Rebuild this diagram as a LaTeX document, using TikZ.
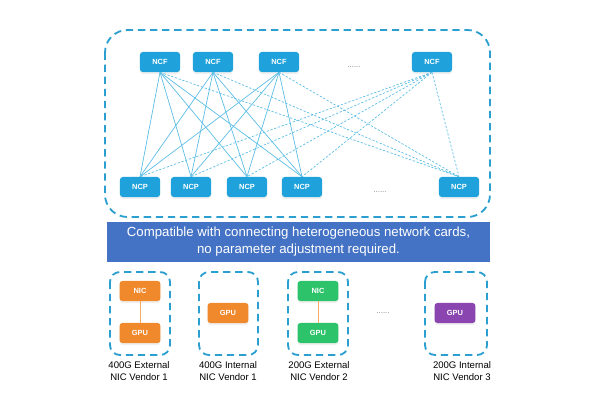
\documentclass[tikz,border=0pt]{standalone}
\usepackage{fontspec}
\setmainfont{Liberation Sans}
\usetikzlibrary{shadows}
\definecolor{ncblue}{HTML}{1FA2DB}
\definecolor{linkblue}{HTML}{5CBDE5}
\definecolor{boxblue}{HTML}{2A9FD0}
\definecolor{bannerblue}{HTML}{4472C4}
\definecolor{gpuorange}{HTML}{F0882C}
\definecolor{nicgreen}{HTML}{2CC36B}
\definecolor{gpupurple}{HTML}{8A45B0}
\begin{document}
\begin{tikzpicture}[x=0.025cm, y=-0.025cm,
    switchbox/.style={fill=ncblue, rounded corners=2pt, minimum width=1cm, minimum height=0.5cm,
        inner sep=0pt, text=white, font=\bfseries\fontsize{5.3}{6}\selectfont,
        drop shadow={opacity=0.12, shadow xshift=0pt, shadow yshift=-1.5pt}},
    chip/.style={switchbox, minimum width=1.02cm},
    link/.style={linkblue, line width=0.5pt},
    weaklink/.style={link, dash pattern=on 1.6pt off 1.2pt},
    groupbox/.style={boxblue, line width=1.3pt, dash pattern=on 5.2pt off 3.4pt},
    caption/.style={align=center, font=\fontsize{6.8}{8}\selectfont},
    gap/.style={gray, font=\fontsize{5.5}{6}\selectfont}]
    \useasboundingbox (0,0) rectangle (600,400);

    % Fabric boundary
    \draw[groupbox, rounded corners=16pt] (105,30) rectangle (490,217);

    % Fabric switches and edge ports
    \foreach \x [count=\i] in {160,213,279,432}
        \node[switchbox] (ncf\i) at (\x,62) {NCF};
    \foreach \x [count=\i] in {140,191,247,302,459}
        \node[switchbox] (ncp\i) at (\x,187) {NCP};
    \node[gap] (ncfdots) at (354,67) {......};
    \node[gap] (ncpdots) at (380,192) {......};

    % Links
    \foreach \i in {1,2,3} {
        \foreach \j in {1,...,4}
            \draw[link] (ncf\i.south) -- (ncp\j.north);
        \draw[weaklink] (ncf\i.south) -- (ncp5.north);
    }
    \foreach \j in {1,...,5}
        \draw[weaklink] (ncf4.south) -- (ncp\j.north);

    % Banner
    \node[fill=bannerblue, minimum width=9.575cm, minimum height=1cm, inner sep=0pt,
        text=white, align=center, font=\fontsize{9.4}{12}\selectfont] (note) at (298.5,242)
        {Compatible with connecting heterogeneous network cards,\\no parameter adjustment required.};

    % Servers
    \draw[groupbox, rounded corners=7pt] (110,272) rectangle (170,355);
    \draw[groupbox, rounded corners=7pt] (199,272) rectangle (258,355);
    \draw[groupbox, rounded corners=7pt] (288,272) rectangle (348,355);
    \draw[groupbox, rounded corners=7pt] (425,272) rectangle (487,355);

    \node[chip, fill=gpuorange] (nic1) at (140,291) {NIC};
    \node[chip, fill=gpuorange] (gpu1) at (140,333) {GPU};
    \node[chip, fill=gpuorange] (gpu2) at (228,313) {GPU};
    \node[chip, fill=nicgreen] (nic3) at (318,291) {NIC};
    \node[chip, fill=nicgreen] (gpu3) at (318,333) {GPU};
    \node[chip, fill=gpupurple] (gpu4) at (455,313) {GPU};
    \node[gap] (gpudots) at (383,313) {......};

    \draw[gpuorange!70, line width=0.5pt] (nic1) -- (gpu1);
    \draw[gpuorange!70, line width=0.5pt] (nic3) -- (gpu3);

    % Captions
    \node[caption] (cap1) at (139,371) {400G External\\NIC Vendor 1};
    \node[caption] (cap2) at (228,371) {400G Internal\\NIC Vendor 1};
    \node[caption] (cap3) at (319,371) {200G External\\NIC Vendor 2};
    \node[caption] (cap4) at (462,371) {200G Internal\\NIC Vendor 3};
\end{tikzpicture}
\end{document}
